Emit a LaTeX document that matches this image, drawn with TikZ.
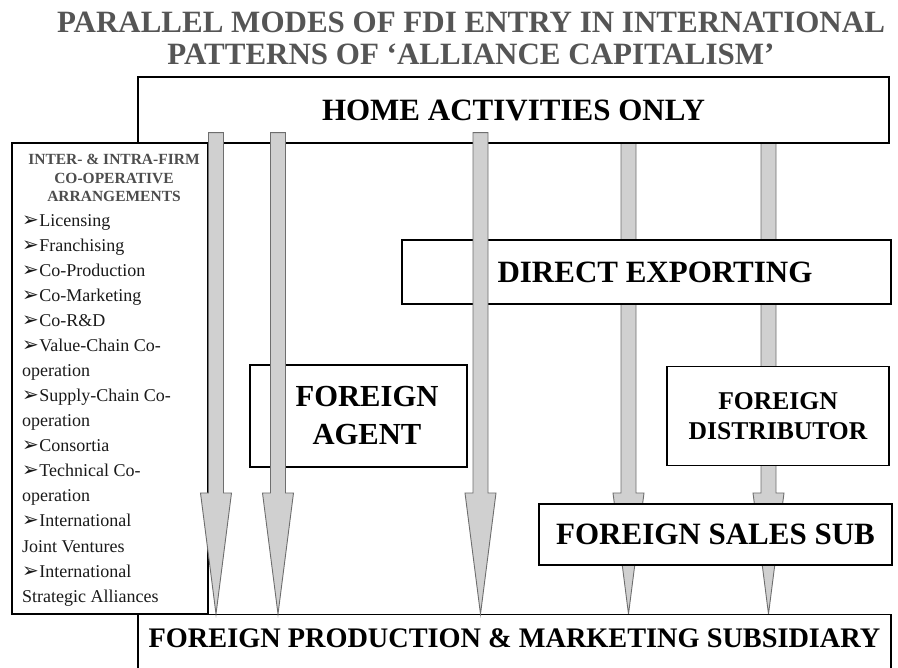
\documentclass[tikz,border=0pt]{standalone}
\usepackage{fontspec}
\setmainfont{Liberation Serif}[BoldFont={Liberation Serif Bold}, ItalicFont={Liberation Serif Italic}]
\newfontfamily\symfont{DejaVu Sans}
\usetikzlibrary{positioning, backgrounds}

\definecolor{arrowfill}{HTML}{D0D0D0}
\definecolor{arrowline}{HTML}{6E6E6E}
\definecolor{titlegrey}{HTML}{555555}
\definecolor{headgrey}{HTML}{4D4D4D}
\definecolor{itemblack}{HTML}{1A1A1A}

% list marker
\newcommand{\bul}{{\symfont\fontsize{20}{20}\selectfont ➢}\hspace{0.5pt}}

% wide arrow from the bottom of #2 to the top of #3 at x = #1
\newcommand{\modearrow}[3]{%
  \coordinate (mtop) at (#1,0 |- #2.south);
  \coordinate (mtip) at (#1,0 |- #3.north);
  \draw[modefill] ([shift={(-7.5pt,11pt)}]mtop) -- ([shift={(7.5pt,11pt)}]mtop)
    -- ([shift={(7.5pt,121pt)}]mtip) -- ([shift={(15.5pt,121pt)}]mtip) -- (mtip)
    -- ([shift={(-15.5pt,121pt)}]mtip) -- ([shift={(-7.5pt,121pt)}]mtip) -- cycle;}

\begin{document}
\begin{tikzpicture}[
    x=1pt, y=-1pt,
    box/.style={draw, line width=1.2pt, fill=white, inner sep=0pt},
    big/.style={font=\bfseries\fontsize{31}{38}\selectfont, align=center},
    item/.style={anchor=base west, inner sep=0pt, text=itemblack, font=\fontsize{18}{18}\selectfont},
    modefill/.style={fill=arrowfill, draw=arrowline, line width=0.9pt, line join=miter}
  ]
  \useasboundingbox (0,0) rectangle (898,668);
  \clip (0,0) rectangle (898,668);

  % title
  \node[font=\bfseries\fontsize{31}{32}\selectfont, text=titlegrey, align=center, inner sep=0pt]
    (title) at (471,38.75) {PARALLEL MODES OF FDI ENTRY IN INTERNATIONAL\\PATTERNS OF ‘ALLIANCE CAPITALISM’};

  % boxes
  \node[box, big, minimum width=751, minimum height=66] (home) at (513.5,110) {HOME ACTIVITIES ONLY};
  \node[box, minimum width=196, minimum height=471] (coop) at (110,378.5) {};
  \node[box, big, minimum width=489, minimum height=64] (export) at (646.5,272) {\hspace*{17pt}DIRECT EXPORTING};
  \node[box, big, font=\bfseries\fontsize{30.6}{38}\selectfont, minimum width=217, minimum height=102]
    (agent) at (358.5,416) {\hspace*{17pt}FOREIGN\\\hspace*{17pt}AGENT};
  \node[box, big, font=\bfseries\fontsize{25.6}{30}\selectfont, minimum width=222, minimum height=99]
    (distrib) at (778,416) {FOREIGN\\DISTRIBUTOR};
  \node[box, big, minimum width=353, minimum height=61] (salessub) at (715.5,534.5) {FOREIGN SALES SUB};
  \node[box, anchor=north, minimum width=753, minimum height=70] (fpm) at (514.5,614) {};
  \node[big, font=\bfseries\fontsize{28.3}{30}\selectfont, anchor=base, inner sep=0pt]
    (fpmlabel) at (514.5,647) {FOREIGN PRODUCTION \& MARKETING SUBSIDIARY};

  % co-operative arrangements
  \node[font=\bfseries\fontsize{15.5}{18.5}\selectfont, text=headgrey, align=center, inner sep=0pt]
    (coophead) at (114,178.4) {INTER- \& INTRA-FIRM\\CO-OPERATIVE\\ARRANGEMENTS};
  \foreach \txt [count=\i from 0] in {\bul Licensing, \bul Franchising, \bul Co-Production,
      \bul Co-Marketing, \bul Co-R\&D, \bul Value-Chain Co-, operation, \bul Supply-Chain Co-,
      operation, \bul Consortia, \bul Technical Co-, operation, \bul International,
      Joint Ventures, \bul International, Strategic Alliances}
    \node[item] (item\i) at (22,227+25*\i) {\txt};

  % arrows behind the boxes
  \begin{pgfonlayer}{background}
    \modearrow{628.5}{home}{fpm}
    \modearrow{768.5}{home}{fpm}
  \end{pgfonlayer}

  % arrows over the boxes
  \modearrow{216}{home}{fpm}
  \modearrow{278}{home}{fpm}
  \modearrow{480.5}{home}{fpm}
\end{tikzpicture}
\end{document}
